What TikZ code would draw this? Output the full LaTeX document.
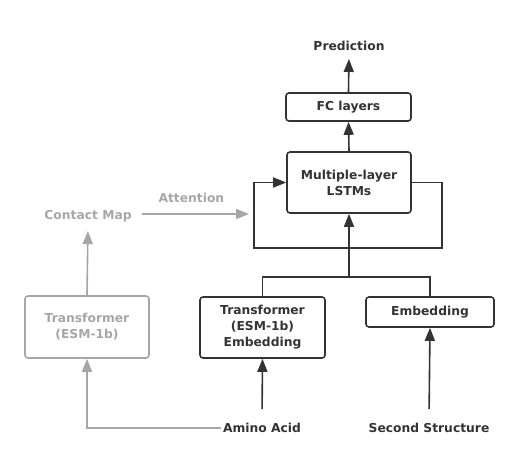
\documentclass[tikz,border=0pt]{standalone}
\usepackage{fontspec}
\setmainfont{DejaVu Sans}
\usetikzlibrary{arrows.meta}
\definecolor{darkline}{HTML}{333333}
\definecolor{greyline}{HTML}{A6A6A6}
\tikzset{
  box/.style={draw=darkline, line width=1.6pt, rounded corners=3pt, align=center, text=darkline, font=\bfseries\fontsize{12.3}{16}\selectfont, inner sep=0pt},
  gbox/.style={box, draw=greyline, text=greyline},
  txt/.style={align=center, text=darkline, font=\bfseries\fontsize{12.3}{16}\selectfont, inner sep=2pt},
  gtxt/.style={txt, text=greyline},
  arr/.style={draw=darkline, line width=1.6pt, -{Triangle[length=13pt,width=10pt]}},
  line/.style={draw=darkline, line width=1.6pt},
  garr/.style={arr, draw=greyline},
}
\begin{document}
\begin{tikzpicture}[x=1pt,y=1pt,yscale=-1]
  \useasboundingbox (0,0) rectangle (527,471);

  % main column
  \node[txt] (pred) at (349,46) {Prediction};
  \node[box, minimum width=125pt, minimum height=28pt] (fc) at (348.5,107) {FC layers};
  \node[box, minimum width=124pt, minimum height=61pt] (lstm) at (349,182.5) {Multiple-layer\\LSTMs};
  \node[box, minimum width=125pt, minimum height=61pt] (temb) at (262.5,327.5) {Transformer\\(ESM-1b)\\Embedding};
  \node[box, minimum width=128pt, minimum height=30pt] (emb) at (430,312) {Embedding};
  \node[txt] (amino) at (262,428) {Amino Acid};
  \node[txt] (second) at (429,428) {Second Structure};

  % grey branch
  \node[gbox, minimum width=124pt, minimum height=62pt] (tfm) at (87,327) {Transformer\\(ESM-1b)};
  \node[gtxt] (cmap) at (88,216) {Contact Map};
  \coordinate (attend) at (249,214);

  % helper points
  \coordinate (split) at (349,277);
  \coordinate (loopR) at (442,248);
  \coordinate (loopL) at (254,248);

  % connectors
  \draw[arr, shorten >=6pt] (fc.north) -- (pred.south);
  \draw[arr] (lstm.north) -- (fc.south);
  \draw[arr] (lstm.east) -| (loopR) -- (loopL) |- (lstm.west);
  \draw[arr] (split) -- (lstm.south);
  \draw[line] (temb.north) |- (split) -| (emb.north);
  \draw[arr, shorten <=12pt] (amino.north) -- (temb.south);
  \draw[arr, shorten <=12pt] (second.north) -- (emb.south);

  % grey connectors
  \draw[garr] (amino.west) -| (tfm.south);
  \draw[garr, shorten >=7pt] (tfm.north) -- (cmap.south);
  \draw[garr, shorten <=8pt] (cmap.east |- attend) -- node[gtxt, above=9pt] (att) {Attention} (attend);
\end{tikzpicture}
\end{document}
